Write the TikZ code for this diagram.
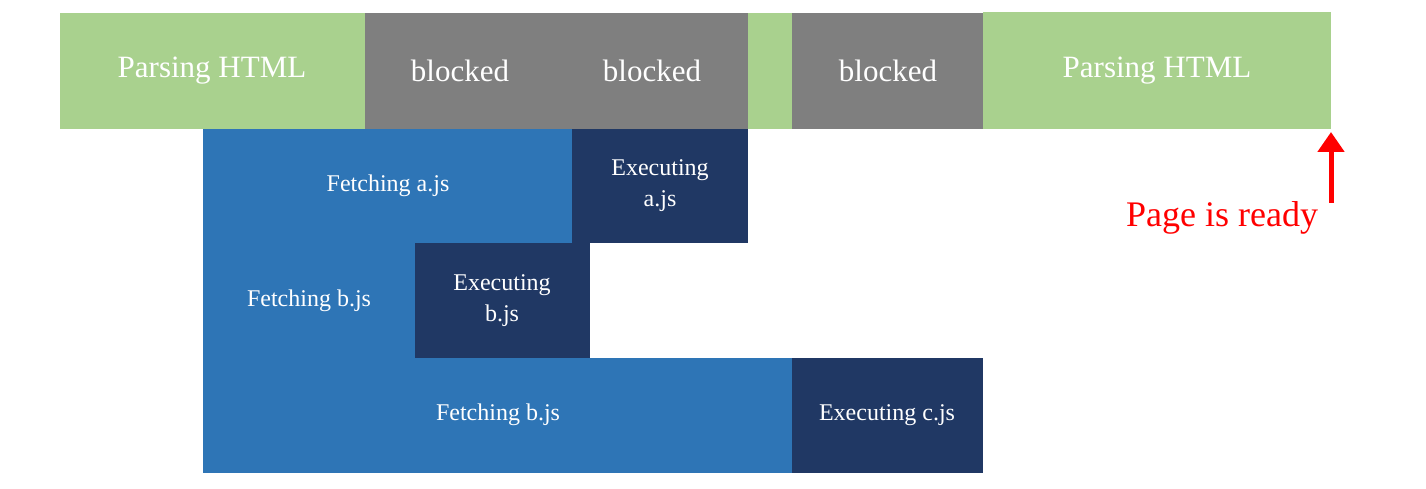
\documentclass[tikz,border=0pt]{standalone}
\usepackage{fontspec}
\setmainfont{Liberation Serif}
\usetikzlibrary{arrows.meta}
\definecolor{grn}{HTML}{A9D18E}
\definecolor{gry}{HTML}{7F7F7F}
\definecolor{blu}{HTML}{2E75B6}
\definecolor{dbl}{HTML}{203864}
\begin{document}
\begin{tikzpicture}[x=1pt,y=-1pt,
  box/.style={inner sep=0pt,text=white,align=center},
  big/.style={font=\fontsize{31}{34}\selectfont},
  small/.style={font=\fontsize{24}{31}\selectfont}]
\useasboundingbox (0,0) rectangle (1426,489);
\fill[grn] (60,13) rectangle (365,129);
\fill[gry] (365,13) rectangle (748,129);
\fill[grn] (748,13) rectangle (792,129);
\fill[gry] (792,13) rectangle (983,129);
\fill[grn] (983,12) rectangle (1331,129);
\node[box,big] (p1) at (212,71) {Parsing HTML};
\node[box,big] (b1) at (460,71) {blocked};
\node[box,big] (b2) at (652,71) {blocked};
\node[box,big] (b3) at (888,71) {blocked};
\node[box,big] (p2) at (1157,71) {Parsing HTML};
\fill[blu] (203,129) rectangle (572,243);
\fill[dbl] (572,129) rectangle (748,243);
\fill[blu] (203,243) rectangle (415,358);
\fill[dbl] (415,243) rectangle (590,358);
\fill[blu] (203,358) rectangle (792,473);
\fill[dbl] (792,358) rectangle (983,473);
\node[box,small] (fa) at (388,186) {Fetching a.js};
\node[box,small] (ea) at (660,186) {Executing\\a.js};
\node[box,small] (fb) at (309,301) {Fetching b.js};
\node[box,small] (eb) at (502,301) {Executing\\b.js};
\node[box,small] (fc) at (498,415) {Fetching b.js};
\node[box,small] (ec) at (887,415) {Executing c.js};
\node[inner sep=0pt,text=red,font=\fontsize{36}{40}\selectfont] (pr) at (1222,218) {Page is ready};
\coordinate (at) at (1331,203);
\coordinate (ah) at (1331,132);
\draw[red,line width=5pt,-{Triangle[length=20pt,width=26pt]}] (at) -- (ah);
\end{tikzpicture}
\end{document}
